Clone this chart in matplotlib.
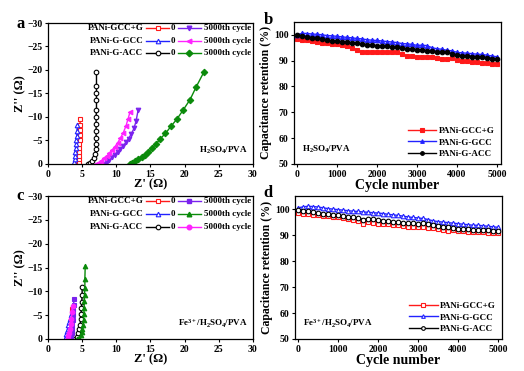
import matplotlib
matplotlib.use("Agg")
import matplotlib.pyplot as plt

plt.rcParams['font.family'] = ['Liberation Serif', 'DejaVu Serif']
plt.rcParams['font.weight'] = 'bold'
plt.rcParams['axes.labelweight'] = 'bold'
plt.rcParams['mathtext.fontset'] = 'custom'
plt.rcParams['mathtext.rm'] = 'Liberation Serif:bold'
plt.rcParams['mathtext.it'] = 'Liberation Serif:bold'
plt.rcParams['mathtext.bf'] = 'Liberation Serif:bold'

RED = '#ff1a1a'
BLUE = '#2222ff'
PURPLE = '#7a22ee'
MAGENTA = '#ff22ff'
GREEN = '#0a8a0a'

names = ['PANi-GCC+G', 'PANi-G-GCC', 'PANi-G-ACC']

# ---- panel a : Nyquist, H2SO4/PVA ----
a_gccg_0_x = [4.45, 4.5, 4.55, 4.55, 4.6, 4.6, 4.6, 4.65, 4.65, 4.65, 4.7, 4.7]
a_gccg_0_y = [0, -0.5, -1.1, -1.8, -2.6, -3.4, -4.3, -5.2, -6.2, -7.2, -8.3, -9.5]
a_ggcc_0_x = [3.8, 3.85, 3.9, 3.95, 4.0, 4.05, 4.1, 4.15, 4.2, 4.25, 4.3]
a_ggcc_0_y = [0, -0.5, -1.1, -1.8, -2.6, -3.4, -4.2, -5.0, -5.9, -7.0, -8.2]
a_gacc_0_x = [5.8, 6.2, 6.5, 6.8, 6.95, 7.0, 7.0, 7.05, 7.05, 7.05, 7.05, 7.1, 7.1, 7.1, 7.1, 7.1]
a_gacc_0_y = [0, -0.3, -0.7, -1.3, -2.1, -3.1, -4.2, -5.5, -7.0, -8.5, -10.0, -11.5, -13.7, -15.0, -16.5, -19.5]
a_gccg_5k_x = [8.3, 8.6, 9.0, 9.4, 9.8, 10.2, 10.6, 11.0, 11.4, 11.8, 12.2, 12.6, 12.9, 13.2]
a_gccg_5k_y = [0, -0.4, -0.9, -1.4, -2.0, -2.6, -3.2, -3.8, -4.6, -5.4, -6.4, -7.6, -9.2, -11.5]
a_ggcc_5k_x = [7.0, 7.4, 7.8, 8.2, 8.6, 9.0, 9.4, 9.8, 10.2, 10.6, 11.0, 11.4, 11.7, 12.0]
a_ggcc_5k_y = [0, -0.3, -0.7, -1.2, -1.7, -2.3, -3.0, -3.7, -4.5, -5.5, -6.6, -8.0, -9.5, -11.0]
a_gacc_5k_x = [12.0, 12.3, 12.7, 13.2, 13.7, 14.2, 14.7, 15.2, 15.8, 16.4, 17.2, 18.0, 18.9, 19.8, 20.8, 21.7, 22.8]
a_gacc_5k_y = [0, -0.3, -0.6, -1.0, -1.5, -2.0, -2.6, -3.3, -4.2, -5.3, -6.5, -8.0, -9.6, -11.5, -13.7, -16.4, -19.5]

# ---- panel c : Nyquist, Fe3+/H2SO4/PVA ----
c_gccg_0_x = [3.2, 3.25, 3.3, 3.35, 3.4, 3.45, 3.5]
c_gccg_0_y = [0, -0.8, -1.7, -2.7, -3.8, -5.0, -6.2]
c_ggcc_0_x = [2.5, 2.6, 2.7, 2.8, 2.9, 3.0, 3.1, 3.2, 3.3]
c_ggcc_0_y = [0, -0.5, -1.0, -1.6, -2.2, -2.9, -3.6, -4.3, -5.0]
c_gacc_0_x = [4.0, 4.2, 4.4, 4.6, 4.7, 4.8, 4.85, 4.9, 4.95, 5.0, 5.0]
c_gacc_0_y = [0, -0.5, -1.2, -2.0, -3.0, -4.1, -5.2, -6.5, -7.8, -9.2, -10.9]
c_gccg_5k_x = [3.3, 3.4, 3.45, 3.5, 3.55, 3.6, 3.65, 3.7, 3.75, 3.8]
c_gccg_5k_y = [0, -0.6, -1.3, -2.1, -3.0, -4.0, -5.0, -6.0, -7.1, -8.3]
c_ggcc_5k_x = [4.3, 4.6, 4.8, 4.95, 5.05, 5.15, 5.2, 5.25, 5.3, 5.3, 5.35, 5.4, 5.4, 5.45]
c_ggcc_5k_y = [0, -0.3, -0.8, -1.4, -2.1, -3.0, -4.0, -5.2, -6.5, -7.9, -9.3, -10.8, -12.7, -15.3]
c_gacc_5k_x = [2.9, 3.0, 3.1, 3.2, 3.3, 3.4, 3.5, 3.6]
c_gacc_5k_y = [0, -0.6, -1.3, -2.1, -3.1, -4.3, -5.6, -7.0]

# ---- panels b, d : capacitance retention ----
cycles = list(range(0, 5001, 125))
b_gccg = [98.5, 98.0, 97.8, 97.5, 97.3, 97.0, 96.8, 96.6, 96.3, 96.0, 95.6, 95.0, 94.2, 93.5,
          93.3, 93.4, 93.4, 93.3, 93.2, 93.3, 93.2, 92.6, 91.8, 91.7, 91.6, 91.5, 91.4, 91.3,
          91.2, 90.8, 90.6, 91.0, 90.2, 89.9, 89.8, 89.6, 89.5, 89.2, 88.9, 88.8, 88.8]
b_ggcc = [100.0, 100.6, 100.5, 100.3, 100.2, 100.0, 99.7, 99.6, 99.4, 99.2, 99.0, 98.8, 98.6,
          98.4, 98.1, 97.9, 97.8, 97.6, 97.4, 97.2, 97.0, 96.6, 96.5, 96.3, 95.9, 96.0, 95.8,
          95.0, 94.6, 94.4, 94.0, 93.8, 93.2, 93.0, 92.9, 92.7, 92.5, 92.4, 92.1, 91.8, 91.5]
b_gacc = [100.0, 99.5, 99.1, 98.8, 98.6, 98.3, 97.9, 97.6, 97.5, 97.3, 97.1, 96.9, 96.7, 96.4,
          96.2, 96.0, 95.8, 95.7, 95.5, 95.3, 95.1, 94.8, 94.6, 94.4, 94.3, 94.1, 93.9, 93.6,
          93.4, 93.3, 93.2, 92.6, 92.0, 91.9, 91.8, 91.6, 91.5, 91.3, 91.1, 90.8, 90.5]
d_gccg = [98.5, 98.2, 98.0, 97.8, 97.6, 97.4, 97.2, 97.0, 96.8, 96.5, 96.3, 95.8, 95.5, 94.3,
          95.0, 94.8, 94.4, 94.3, 94.2, 94.0, 93.9, 93.6, 93.2, 93.1, 93.0, 93.0, 92.9, 92.7,
          92.5, 92.0, 91.7, 91.9, 91.6, 91.4, 91.3, 91.2, 91.2, 91.1, 91.0, 90.9, 90.9]
d_ggcc = [100.5, 100.9, 101.1, 101.0, 100.8, 100.5, 100.2, 100.0, 99.8, 99.6, 99.4, 99.2, 99.1,
          98.9, 98.8, 98.6, 98.5, 98.3, 98.0, 97.8, 97.6, 97.3, 97.0, 96.8, 96.6, 96.4, 96.0,
          95.5, 95.2, 95.0, 94.8, 94.6, 94.4, 94.2, 94.0, 93.8, 93.8, 93.6, 93.4, 93.2, 93.0]
d_gacc = [99.8, 99.4, 99.1, 98.9, 98.6, 98.3, 98.1, 97.9, 97.7, 97.4, 97.1, 96.9, 96.6, 96.0,
          96.3, 96.1, 95.9, 95.6, 95.4, 95.2, 95.0, 94.8, 94.6, 94.5, 94.4, 94.5, 94.4, 93.8,
          93.5, 93.3, 93.1, 92.8, 92.5, 92.3, 92.2, 92.0, 92.0, 91.9, 91.8, 91.7, 91.6]

fig = plt.figure(figsize=(5.24, 3.71), dpi=100)
ax_a = fig.add_axes([0.0916, 0.558, 0.391, 0.380])
ax_b = fig.add_axes([0.561, 0.558, 0.395, 0.383])
ax_c = fig.add_axes([0.0916, 0.0863, 0.391, 0.385])
ax_d = fig.add_axes([0.563, 0.0863, 0.395, 0.385])

ms = 3.3


def style_axis(ax):
    ax.tick_params(direction='out', length=2.5, width=0.8, labelsize=7, pad=1.5)
    for lab in ax.get_xticklabels() + ax.get_yticklabels():
        lab.set_fontweight('bold')
    for sp in ax.spines.values():
        sp.set_linewidth(0.9)


def nyquist(ax, series, legend_rows, note):
    for x, y, col, mk, filled in series:
        ax.plot(x, y, color=col, marker=mk, ms=ms, lw=1.0,
                mfc=col if filled else 'white', mec=col, mew=0.8)
    ax.set_xlim(0, 30)
    ax.set_ylim(0, -30)
    ax.set_xticks(range(0, 31, 5))
    ax.set_yticks(range(0, -31, -5))
    ax.set_xlabel("Z' (\u03a9)", fontsize=9, labelpad=0)
    ax.set_ylabel("Z'' (\u03a9)", fontsize=9, labelpad=1)
    style_axis(ax)
    ys = [0.965, 0.875, 0.785]
    for yy, name, (c0, m0, c5, m5) in zip(ys, names, legend_rows):
        ax.text(0.465, yy, name, transform=ax.transAxes, ha='right', va='center', fontsize=6.5)
        ax.plot([0.48, 0.59], [yy, yy], transform=ax.transAxes, color=c0, lw=1.0)
        ax.plot([0.535], [yy], transform=ax.transAxes, color=c0, marker=m0, ms=ms,
                mfc='white', mec=c0, mew=0.8)
        ax.text(0.60, yy, '0', transform=ax.transAxes, ha='left', va='center', fontsize=6.5)
        ax.plot([0.635, 0.745], [yy, yy], transform=ax.transAxes, color=c5, lw=1.0)
        ax.plot([0.69], [yy], transform=ax.transAxes, color=c5, marker=m5, ms=ms,
                mfc=c5, mec=c5)
        ax.text(0.76, yy, '5000th cycle', transform=ax.transAxes, ha='left', va='center',
                fontsize=6.5)
    ax.text(0.975, 0.06, note, transform=ax.transAxes, ha='right', va='bottom', fontsize=6.5)


def retention(ax, series, filled, note):
    for y, col, mk, name in series:
        ax.plot(cycles, y, color=col, marker=mk, ms=ms, lw=1.0,
                mfc=col if filled else 'white', mec=col, mew=0.8, label=name)
    ax.set_xlim(-80, 5100)
    ax.set_ylim(50, 105)
    ax.set_xticks(range(0, 5001, 1000))
    ax.set_yticks(range(50, 101, 10))
    ax.set_xlabel('Cycle number', fontsize=10, labelpad=0)
    ax.set_ylabel('Capacitance retention (%)', fontsize=8.5, labelpad=1)
    style_axis(ax)
    leg = ax.legend(loc='lower right', fontsize=6.5, frameon=False, handlelength=3.2,
                    handletextpad=0.3, labelspacing=0.35, borderaxespad=0.25, markerscale=0.8)
    for t in leg.get_texts():
        t.set_fontweight('bold')
    ax.text(0.04, 0.06, note, transform=ax.transAxes, ha='left', va='bottom', fontsize=6.5)


nyquist(ax_a,
        [(a_gccg_0_x, a_gccg_0_y, RED, 's', False),
         (a_ggcc_0_x, a_ggcc_0_y, BLUE, '^', False),
         (a_gacc_0_x, a_gacc_0_y, 'black', 'o', False),
         (a_gccg_5k_x, a_gccg_5k_y, PURPLE, 'v', True),
         (a_ggcc_5k_x, a_ggcc_5k_y, MAGENTA, '<', True),
         (a_gacc_5k_x, a_gacc_5k_y, GREEN, 'D', True)],
        [(RED, 's', PURPLE, 'v'), (BLUE, '^', MAGENTA, '<'), ('black', 'o', GREEN, 'D')],
        r'H$_2$SO$_4$/PVA')

nyquist(ax_c,
        [(c_gccg_0_x, c_gccg_0_y, RED, 's', False),
         (c_ggcc_0_x, c_ggcc_0_y, BLUE, '^', False),
         (c_gacc_0_x, c_gacc_0_y, 'black', 'o', False),
         (c_gccg_5k_x, c_gccg_5k_y, PURPLE, 's', True),
         (c_ggcc_5k_x, c_ggcc_5k_y, GREEN, '^', True),
         (c_gacc_5k_x, c_gacc_5k_y, MAGENTA, 'o', True)],
        [(RED, 's', PURPLE, 's'), (BLUE, '^', GREEN, '^'), ('black', 'o', MAGENTA, 'o')],
        r'Fe$^{3+}$/H$_2$SO$_4$/PVA')

retention(ax_b,
          [(b_gccg, RED, 's', names[0]), (b_ggcc, BLUE, '^', names[1]),
           (b_gacc, 'black', 'o', names[2])],
          True, r'H$_2$SO$_4$/PVA')

retention(ax_d,
          [(d_gccg, RED, 's', names[0]), (d_ggcc, BLUE, '^', names[1]),
           (d_gacc, 'black', 'o', names[2])],
          False, r'Fe$^{3+}$/H$_2$SO$_4$/PVA')

# panel letters
for letter, (px, py) in zip('abcd', [(21, 24), (268, 20), (20, 196), (268, 193)]):
    fig.text(px / 524, 1 - py / 371, letter, ha='center', va='center', fontsize=12)

fig.savefig('out.png', dpi=100, facecolor='white')
